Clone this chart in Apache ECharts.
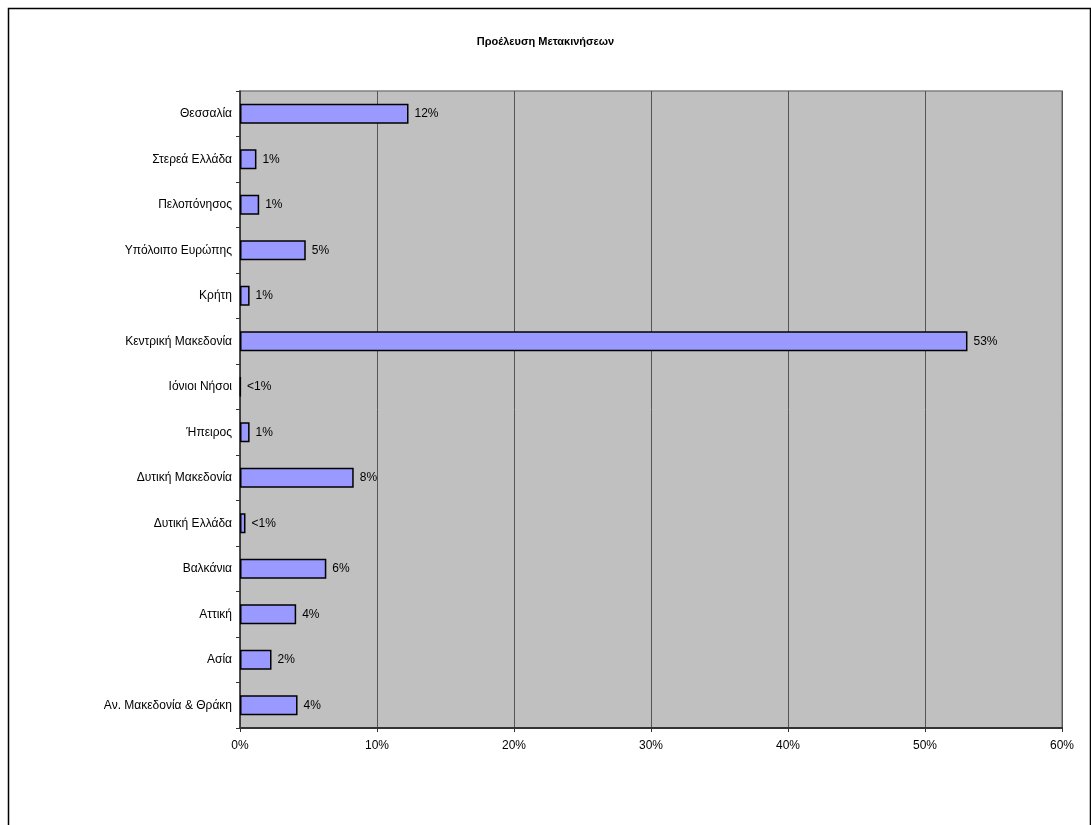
<!DOCTYPE html>
<html>
<head>
<meta charset="utf-8">
<script src="https://cdn.jsdelivr.net/npm/echarts@6/dist/echarts.min.js"></script>
<style>
  html, body { margin: 0; padding: 0; background: #fff; }
  #chart { width: 1091px; height: 825px; }
</style>
</head>
<body>
<div id="chart"></div>
<script>
// περιοχές προέλευσης, από πάνω προς τα κάτω
const regions = [
    'Θεσσαλία', 'Στερεά Ελλάδα', 'Πελοπόνησος', 'Υπόλοιπο Ευρώπης', 'Κρήτη',
    'Κεντρική Μακεδονία', 'Ιόνιοι Νήσοι', 'Ήπειρος', 'Δυτική Μακεδονία',
    'Δυτική Ελλάδα', 'Βαλκάνια', 'Αττική', 'Ασία', 'Αν. Μακεδονία & Θράκη'
];
// ποσοστά (%)
const shares = [12.3, 1.2, 1.4, 4.8, 0.7, 53.1, 0.05, 0.7, 8.3, 0.4, 6.3, 4.1, 2.3, 4.2];
const xTicks = [0, 10, 20, 30, 40, 50, 60];

let myChart = echarts.init(document.getElementById('chart'));

let option = {
    backgroundColor: '#fff',
    textStyle: { fontFamily: 'Liberation Sans, Arial, sans-serif' },
    graphic: [{
        type: 'rect',
        left: 6, top: 6,
        shape: { width: 1082, height: 830 },
        style: { fill: 'none', stroke: '#000', lineWidth: 1.5 },
        silent: true
    }],
    title: {
        text: 'Προέλευση Μετακινήσεων',
        left: 'center',
        top: 31,
        textStyle: { fontSize: 11, fontWeight: 'bold', color: '#000', fontFamily: 'Liberation Sans, Arial, sans-serif' }
    },
    grid: {
        left: 240, right: 29, top: 91, bottom: 97,
        show: true,
        backgroundColor: '#C0C0C0',
        borderColor: '#808080',
        borderWidth: 1.5
    },
    xAxis: {
        type: 'value',
        min: xTicks[0],
        max: xTicks[xTicks.length - 1],
        interval: 10,
        axisLine: { show: true, lineStyle: { color: '#333', width: 2 } },
        axisTick: { show: true, length: 4, lineStyle: { color: '#333' } },
        splitLine: { show: true, lineStyle: { color: '#555', width: 1 } },
        axisLabel: { formatter: '{value}%', color: '#000', fontSize: 12, margin: 12 }
    },
    yAxis: {
        type: 'category',
        data: regions,
        inverse: true,
        axisLine: { show: true, lineStyle: { color: '#333', width: 1.5 } },
        axisTick: { show: true, length: 4, lineStyle: { color: '#333' } },
        axisLabel: { color: '#000', fontSize: 12, margin: 8 },
        splitLine: { show: false }
    },
    series: [{
        type: 'bar',
        data: shares,
        barCategoryGap: '56%',
        itemStyle: { color: '#9999FF', borderColor: '#000', borderWidth: 1.5 },
        label: {
            show: true,
            position: 'right',
            distance: 6,
            color: '#000',
            fontSize: 12,
            formatter: function (p) {
                return p.value < 0.5 ? '<1%' : Math.round(p.value) + '%';
            }
        },
        silent: true
    }]
};

myChart.setOption(option, true);
</script>
</body>
</html>
